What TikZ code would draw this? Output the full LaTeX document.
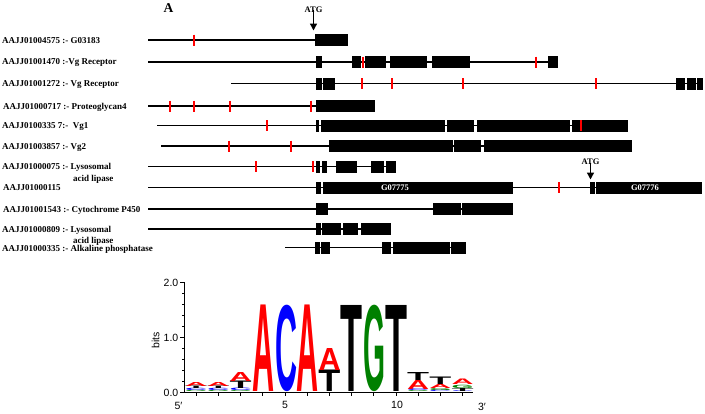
\documentclass[tikz,border=0pt]{standalone}
\usepackage{fontspec}
\setmainfont{Liberation Serif}
\newfontfamily\logofont{Liberation Sans}
\usepackage{graphicx}
\usetikzlibrary{arrows.meta}
\definecolor{logored}{RGB}{255,0,0}
\definecolor{logoblue}{RGB}{0,0,255}
\definecolor{logogreen}{RGB}{0,128,0}
\newcommand\lgl[6]{\node[lgletter, text=#5] (#1) at (#2,#3) {\resizebox*{22pt}{#4pt}{\logofont\bfseries #6}};}
\tikzset{
  lbl/.style={font=\bfseries\fontsize{9}{10}\selectfont, anchor=base west, inner sep=0},
  intron/.style={line width=1.4pt},
  redtick/.style={draw=red, line width=1.8pt},
  atg/.style={font=\bfseries\fontsize{8.5}{9}\selectfont, inner sep=0},
  atgarrow/.style={line width=1.4pt, -{Triangle[length=7pt,width=7pt]}},
  gname/.style={text=white, font=\bfseries\fontsize{8.5}{9}\selectfont, inner sep=0},
  axisline/.style={line width=0.8pt},
  ticklab/.style={font=\logofont\fontsize{10.5}{12}\selectfont, inner sep=0},
  lgletter/.style={anchor=south, inner sep=0, outer sep=0}
}
\begin{document}
\begin{tikzpicture}[x=1pt,y=-1pt]
\useasboundingbox (0,0) rectangle (705,413);
% title
\node[font=\bfseries\fontsize{13.5}{14}\selectfont, inner sep=0] (titleA) at (168.5,8.5) {A};
% labels
\node[lbl] (r1) at (2,43) {AAJJ01004575 :- G03183};
\node[lbl] (r2) at (2,64.7) {AAJJ01001470 :-Vg Receptor};
\node[lbl] (r3) at (2,86.3) {AAJJ01001272 :- Vg Receptor};
\node[lbl] (r4) at (3,109) {AAJJ01000717 :- Proteoglycan4};
\node[lbl] (r5) at (2,128.5) {AAJJ0100335 7:-\ \ Vg1};
\node[lbl] (r6) at (2,149) {AAJJ01003857 :- Vg2};
\node[lbl] (r7) at (2,169.5) {AAJJ01000075 :- Lysosomal};
\node[lbl] (r7b) at (73,181) {acid lipase};
\node[lbl] (r8) at (3,190.5) {AAJJ01000115};
\node[lbl] (r9) at (3,212) {AAJJ01001543 :- Cytochrome P450};
\node[lbl] (r10) at (2,232) {AAJJ01000809 :- Lysosomal};
\node[lbl] (r10b) at (73,243) {acid lipase};
\node[lbl] (r11) at (2,251) {AAJJ01000335 :- Alkaline phosphatase};
% introns
\draw[intron] (148,40) -- (315,40);
\draw[intron] (148,62) -- (558,62);
\draw[intron] (231,83.5) -- (703,83.5);
\draw[intron] (148,106) -- (375,106);
\draw[intron] (157,125.5) -- (628,125.5);
\draw[intron] (161,146) -- (632,146);
\draw[intron] (148,166.7) -- (396,166.7);
\draw[intron] (148,187.5) -- (702,187.5);
\draw[intron] (148,209) -- (513,209);
\draw[intron] (148,229) -- (391,229);
\draw[intron] (285,247.7) -- (466,247.7);
% exons
\foreach \a/\b in {315/348} {\fill (\a,34) rectangle (\b,46);}
\foreach \a/\b in {316/322,352/361,365/386,390/427,432/470,548/558} {\fill (\a,56) rectangle (\b,68);}
\foreach \a/\b in {316/322,323/335,676/685,687/696,697/703} {\fill (\a,77.5) rectangle (\b,89.5);}
\foreach \a/\b in {316/375} {\fill (\a,100) rectangle (\b,112);}
\foreach \a/\b in {316/319,321/445,447/474,477/570,572/628} {\fill (\a,119.5) rectangle (\b,131.5);}
\foreach \a/\b in {329/453,454/481,484/632} {\fill (\a,140) rectangle (\b,152);}
\foreach \a/\b in {316/320,322/327,336/357,371/384,386/396} {\fill (\a,160.7) rectangle (\b,172.7);}
\foreach \a/\b in {316/321,323/513,590/595,596/702} {\fill (\a,181.5) rectangle (\b,193.5);}
\foreach \a/\b in {316/328,433/461,462/513} {\fill (\a,203) rectangle (\b,215);}
\foreach \a/\b in {316/321,322/341,343/358,361/391} {\fill (\a,223) rectangle (\b,235);}
\foreach \a/\b in {315/320,321/330,382/391,393/450,451/466} {\fill (\a,241.7) rectangle (\b,253.7);}
% red ticks
\foreach \t in {194} {\draw[redtick] (\t,34.5) -- (\t,45.5);}
\foreach \t in {363,536} {\draw[redtick] (\t,56.5) -- (\t,67.5);}
\foreach \t in {362,392,463,596} {\draw[redtick] (\t,78) -- (\t,89);}
\foreach \t in {170,194,230,311} {\draw[redtick] (\t,100.5) -- (\t,111.5);}
\foreach \t in {267,581} {\draw[redtick] (\t,120) -- (\t,131);}
\foreach \t in {229,291} {\draw[redtick] (\t,140.5) -- (\t,151.5);}
\foreach \t in {256,313} {\draw[redtick] (\t,161.2) -- (\t,172.2);}
\foreach \t in {559} {\draw[redtick] (\t,182) -- (\t,193);}
% gene names
\node[gname] (g1) at (395,187.5) {G07775};
\node[gname] (g2) at (645,187.5) {G07776};
% ATG arrows
\node[atg] (atg1) at (313.5,9.5) {ATG};
\coordinate (atg1tip) at (313.5,30.5);
\draw[atgarrow] (atg1.south) ++(0,-2.5) -- (atg1tip);
\node[atg] (atg2) at (590.5,161.5) {ATG};
\coordinate (atg2tip) at (590.5,179.5);
\draw[atgarrow] (atg2.south) ++(0,-2) -- (atg2tip);
% logo axes
\draw[axisline] (184,282) -- (184,392.5) -- (473,392.5);
\foreach \v in {0,1,2} {\draw[axisline] (180,392.5-55*\v) -- (184,392.5-55*\v);}
\foreach \v in {0.2,0.4,0.6,0.8,1.2,1.4,1.6,1.8} {\draw[axisline] (182,392.5-55*\v) -- (184,392.5-55*\v);}
\foreach \i in {1,...,13} {\draw[axisline] (285+22.2*\i-111,392.5) -- (285+22.2*\i-111,395.5);}
\node[ticklab, anchor=east] (y2) at (178.5,282.5) {2.0};
\node[ticklab, anchor=east] (y1) at (178.5,337.5) {1.0};
\node[ticklab, anchor=east] (y0) at (178.5,392.5) {0.0};
\node[ticklab, rotate=90] (bits) at (155.5,340) {bits};
\node[ticklab] (x5p) at (178.5,406) {5′};
\node[ticklab] (x5) at (285,405) {5};
\node[ticklab] (x10) at (397,405) {10};
\node[ticklab] (x3p) at (482,407) {3′};
% logo letters (name, x, ybottom, height, colour, letter)
\lgl{p1g}{196.2}{392}{1.2}{logogreen}{G}
\lgl{p1c}{196.2}{390.8}{2.3}{logoblue}{C}
\lgl{p1t}{196.2}{388.5}{2.5}{black}{T}
\lgl{p1a}{196.2}{386}{4}{logored}{A}
\lgl{p2g}{218.4}{392}{1.2}{logogreen}{G}
\lgl{p2c}{218.4}{390.8}{2.3}{logoblue}{C}
\lgl{p2t}{218.4}{388.5}{2.5}{black}{T}
\lgl{p2a}{218.4}{386}{4}{logored}{A}
\lgl{p3g}{240.6}{392}{1}{logogreen}{G}
\lgl{p3c}{240.6}{391}{2.5}{logoblue}{C}
\lgl{p3t}{240.6}{388.5}{7.5}{black}{T}
\lgl{p3a}{240.6}{381}{9}{logored}{A}
\lgl{p4a}{263.5}{391.5}{86.5}{logored}{A}
\lgl{p5c}{286}{391.5}{86.5}{logoblue}{C}
\lgl{p6a}{307.5}{391.5}{86.5}{logored}{A}
\lgl{p7t}{329.5}{391.5}{21.5}{black}{T}
\lgl{p7a}{329.5}{370}{22}{logored}{A}
\lgl{p8t}{351.6}{391.5}{86}{black}{T}
\lgl{p9g}{374.5}{391.5}{86.5}{logogreen}{G}
\lgl{p10t}{396.5}{391.5}{86}{black}{T}
\lgl{p11g}{418.2}{392}{1}{logogreen}{G}
\lgl{p11c}{418.2}{391}{2}{logoblue}{C}
\lgl{p11a}{418.2}{389}{9}{logored}{A}
\lgl{p11t}{418.2}{380}{8}{black}{T}
\lgl{p12c}{440.4}{392}{1.5}{logoblue}{C}
\lgl{p12g}{440.4}{390.5}{2}{logogreen}{G}
\lgl{p12a}{440.4}{388.5}{4}{logored}{A}
\lgl{p12t}{440.4}{384.5}{7.5}{black}{T}
\lgl{p13c}{462.6}{392}{0.8}{logoblue}{C}
\lgl{p13t}{462.6}{391.2}{3}{black}{T}
\lgl{p13g}{462.6}{388.2}{3.3}{logogreen}{G}
\lgl{p13a}{462.6}{384.9}{5.5}{logored}{A}
\end{tikzpicture}
\end{document}
